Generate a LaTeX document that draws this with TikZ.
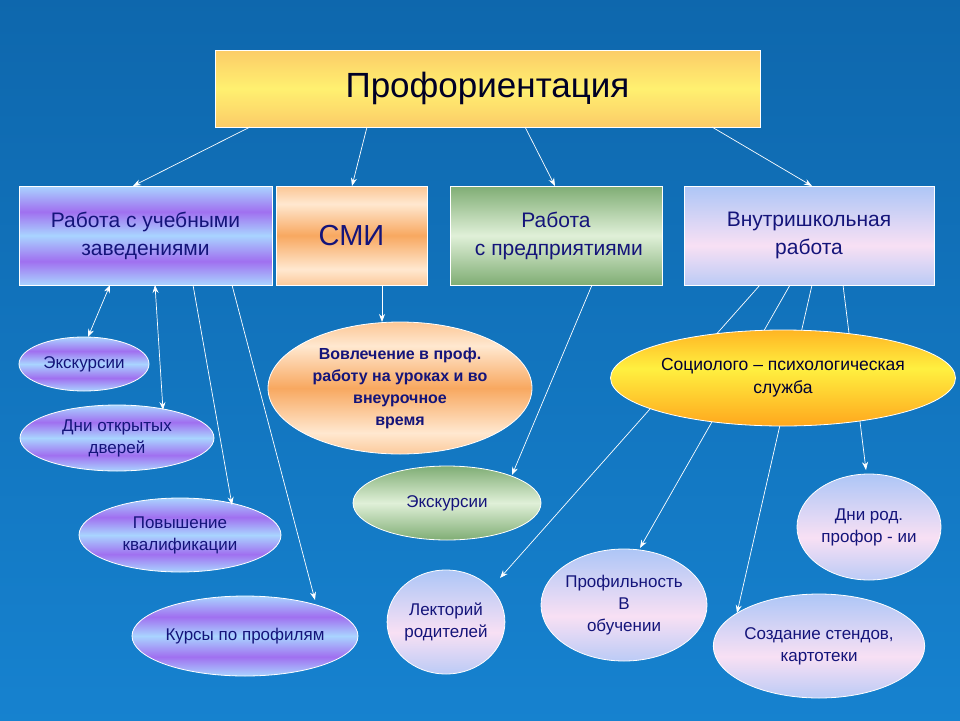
\documentclass[tikz,border=0pt]{standalone}
\usepackage{fontspec}
\setmainfont{Liberation Sans}
\usetikzlibrary{shapes.geometric,arrows.meta}
\definecolor{txt}{HTML}{14147A}
\definecolor{lb}{HTML}{A9D4FF}
\definecolor{pu}{HTML}{A070F0}
\definecolor{lo}{HTML}{FFE8D0}
\definecolor{or}{HTML}{F8A860}
\definecolor{dg}{HTML}{1E6A10}
\definecolor{lg}{HTML}{E0F0D8}
\definecolor{sk}{HTML}{6FB0F8}
\definecolor{pk}{HTML}{F8E0F4}
\definecolor{bgl}{HTML}{1A8FE0}
\definecolor{bgd}{HTML}{0A5A9C}
\definecolor{ty}{HTML}{FFF070}
\definecolor{so}{HTML}{FF6A00}
\definecolor{sy}{HTML}{FFF040}
\pgfdeclareverticalshading{purp}{100bp}{color(0bp)=(lb);color(12bp)=(pu);color(25bp)=(lb);color(37bp)=(pu);color(50bp)=(lb);color(62bp)=(pu);color(75bp)=(lb);color(87bp)=(pu);color(100bp)=(lb)}
\pgfdeclareverticalshading{orng}{100bp}{color(0bp)=(lo);color(16bp)=(or);color(33bp)=(lo);color(50bp)=(or);color(66bp)=(lo);color(83bp)=(or);color(100bp)=(lo)}
\pgfdeclareverticalshading{grn}{100bp}{color(0bp)=(dg);color(50bp)=(lg);color(100bp)=(dg)}
\pgfdeclareverticalshading{sky}{100bp}{color(0bp)=(sk);color(45bp)=(pk);color(100bp)=(sk)}
\pgfdeclareverticalshading{ttl}{100bp}{color(0bp)=(or);color(50bp)=(ty);color(100bp)=(or)}
\pgfdeclareverticalshading{soc}{100bp}{color(0bp)=(so);color(55bp)=(sy);color(100bp)=(so)}
\pgfdeclareverticalshading{bgs}{100bp}{color(0bp)=(bgl);color(100bp)=(bgd)}
\begin{document}
\begin{tikzpicture}[x=1pt,y=-1pt,
 box/.style={draw=white,line width=0.8pt,text=txt,align=center,font=\fontsize{21}{28}\selectfont,inner sep=0pt},
 ell/.style={ellipse,draw=white,line width=0.8pt,text=txt,align=center,font=\fontsize{17}{22}\selectfont,inner sep=0pt},
 ln/.style={draw=white,line width=0.7pt},
 ar/.style={ln,-{Stealth[length=8pt,width=6pt]}},
 da/.style={ln,{Stealth[length=8pt,width=6pt]}-{Stealth[length=8pt,width=6pt]}}]
\shade[shading=bgs] (0,0) rectangle (960,720);
\useasboundingbox (0,0) rectangle (960,720);
\node[box,shading=ttl,minimum width=545pt,minimum height=77pt,font=\fontsize{35}{40}\selectfont,text=black!85!blue] (t) at (487.5,88.5) {Профориентация};
\node[box,shading=purp,minimum width=253pt,minimum height=99pt] (b1) at (145.5,235.5) {Работа с учебными\\заведениями};
\node[box,shading=orng,minimum width=151pt,minimum height=99pt,font=\fontsize{29}{33}\selectfont] (b2) at (351.5,235.5) {СМИ};
\node[box,shading=grn,minimum width=212pt,minimum height=99pt] (b3) at (556,235.5) {Работа\\ \ с предприятиями};
\node[box,shading=sky,minimum width=250pt,minimum height=99pt] (b4) at (809,235.5) {Внутришкольная\\работа};
\coordinate (ta) at (250,127);\coordinate (tb) at (367,127);\coordinate (tc) at (525,127);\coordinate (td) at (712,127);
\coordinate (ha) at (133,186);\coordinate (hb) at (352,186);\coordinate (hc) at (555,186);\coordinate (hd) at (812,186);
% ellipses
\node[ell,shading=purp,minimum width=130pt,minimum height=54pt] (e1) at (84,364) {Экскурсии};
\node[ell,shading=purp,minimum width=194pt,minimum height=66pt] (e2) at (117,438) {Дни открытых\\дверей};
\node[ell,shading=purp,minimum width=202pt,minimum height=74pt] (e3) at (180,535) {Повышение\\квалификации};
\node[ell,shading=purp,minimum width=226pt,minimum height=80pt] (e4) at (245,636) {Курсы по профилям};
\node[ell,shading=orng,minimum width=264pt,minimum height=132pt,font=\bfseries\fontsize{16}{22}\selectfont] (e5) at (400,388) {Вовлечение в проф.\\работу на уроках и во\\внеурочное\\время};
\node[ell,shading=grn,minimum width=188pt,minimum height=74pt] (e6) at (447,503) {Экскурсии};
\node[ell,shading=sky,minimum width=114pt,minimum height=104pt] (e8) at (446,622) {Лекторий\\родителей};
\node[ell,shading=sky,minimum width=166pt,minimum height=112pt] (e9) at (624,605) {Профильность\\В\\обучении};
\node[ell,shading=sky,minimum width=144pt,minimum height=106pt] (e10) at (869,527) {Дни род.\\профор - ии};
\node[ell,shading=sky,minimum width=210pt,minimum height=104pt] (e11) at (819,646) {Создание стендов,\\картотеки};
% connectors from school box through service
\coordinate (s1) at (760,285);\coordinate (s2) at (790,285);\coordinate (s3) at (812,285);\coordinate (s4) at (843,285);
\coordinate (g1) at (500,578);\coordinate (g2) at (640,548);\coordinate (g3) at (737,613);\coordinate (g4) at (866,470);
\draw[ar] (s1) -- (g1);
\draw[ar] (s2) -- (g2);
\draw[ar] (s3) -- (g3);
\draw[ar] (s4) -- (g4);
\node[ell,shading=soc,minimum width=318pt,minimum height=96pt,font=\fontsize{17.5}{23}\selectfont,text=black!80!blue] (e7) at (783,378) {Социолого -- психологическая\\служба};
% top arrows
\draw[ar] (ta) -- (ha);\draw[ar] (tb) -- (hb);\draw[ar] (tc) -- (hc);\draw[ar] (td) -- (hd);
% left
\coordinate (l1) at (110,285);\coordinate (m1) at (88,337);
\coordinate (l2) at (155,285);\coordinate (m2) at (163,410);
\coordinate (l3) at (193,285);\coordinate (m3) at (232,505);
\coordinate (l4) at (232,285);\coordinate (m4) at (315,600);
\draw[da] (l1) -- (m1);\draw[da] (l2) -- (m2);\draw[ar] (l3) -- (m3);\draw[ar] (l4) -- (m4);
\coordinate (c1) at (382,285);\coordinate (n1) at (382,322);
\draw[ar] (c1) -- (n1);
\coordinate (c2) at (592,285);\coordinate (n2) at (512,475);
\draw[ar] (c2) -- (n2);
\end{tikzpicture}
\end{document}
